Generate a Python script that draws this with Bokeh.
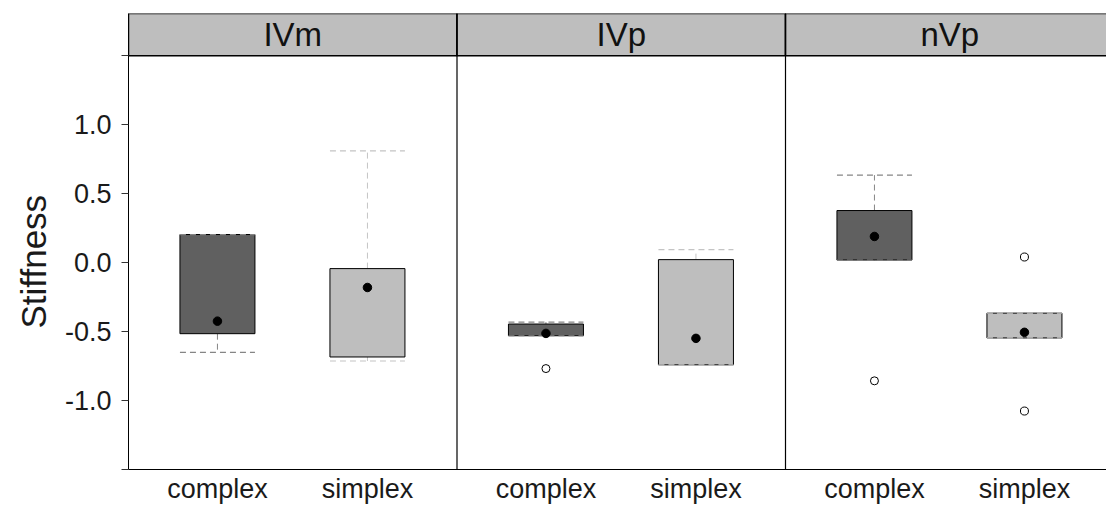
from bokeh.plotting import figure
from bokeh.models import (Range1d, FixedTicker, PrintfTickFormatter, ColumnDataSource, Title)
from bokeh.core.properties import value
from bokeh.embed import file_html
from bokeh.resources import INLINE

# ---- data -------------------------------------------------------------
panels = ["IVm", "IVp", "nVp"]
groups = ["complex", "simplex"]

# one entry per (panel, group) box, panel-major order
q1 = [-0.515, -0.684, -0.530, -0.741, 0.019, -0.546]
q3 = [0.204, -0.043, -0.445, 0.022, 0.378, -0.366]
whisker_lo = [-0.650, -0.713, -0.530, -0.741, 0.019, -0.546]
whisker_hi = [0.204, 0.811, -0.431, 0.094, 0.635, -0.366]
means = [-0.424, -0.180, -0.513, -0.549, 0.190, -0.505]
outliers = [[], [], [-0.768], [], [-0.857], [0.041, -1.076]]

y_ticks = [-1.5, -1.0, -0.5, 0.0, 0.5, 1.0, 1.5]

# ---- layout constants -----------------------------------------------
FONT = "Liberation Sans"
PANEL_W = 2.19          # width of one facet in x units
X0 = 0.407              # left edge of the first facet
BOX_W = 0.5
Y_MIN, Y_MAX = -1.5, 1.5
STRIP_TOP = 1.807       # top of the facet strip
fill_colors = {"complex": "#606060", "simplex": "#bebebe"}
whisker_colors = {"complex": "#858585", "simplex": "#c4c4c4"}

W, H = 1106, 506
LEFT, TOP, BOTTOM = 128, 13, 35
PX_PER_X = 150.0
x_end = X0 + (W - LEFT) / PX_PER_X

p = figure(width=W, height=H, output_backend="svg", toolbar_location=None,
           x_range=Range1d(X0, x_end), y_range=Range1d(Y_MIN, STRIP_TOP),
           min_border_left=LEFT, min_border_right=0,
           min_border_top=TOP, min_border_bottom=BOTTOM)
p.outline_line_color = None
p.xgrid.visible = False
p.ygrid.visible = False
p.background_fill_color = "white"
p.border_fill_color = "white"

# box x positions
xs, grp = [], []
for i, _ in enumerate(panels):
    for j, g in enumerate(groups):
        xs.append(round(i * PANEL_W + j + 1, 6))
        grp.append(g)

src = ColumnDataSource(dict(
    x=xs,
    left=[x - BOX_W / 2 for x in xs],
    right=[x + BOX_W / 2 for x in xs],
    q1=q1, q3=q3, lo=whisker_lo, hi=whisker_hi, mean=means,
    fill=[fill_colors[g] for g in grp],
    wcol=[whisker_colors[g] for g in grp],
))

# whisker stems
p.segment(x0="x", y0="q3", x1="x", y1="hi", source=src, line_color="wcol",
          line_width=1, line_dash="6 4")
p.segment(x0="x", y0="q1", x1="x", y1="lo", source=src, line_color="wcol",
          line_width=1, line_dash="6 4")
# boxes
p.quad(left="left", right="right", bottom="q1", top="q3", source=src,
       fill_color="fill", line_color="black", line_width=1)
# whisker caps
p.segment(x0="left", y0="hi", x1="right", y1="hi", source=src, line_color="wcol",
          line_width=1.2, line_dash="6 4")
p.segment(x0="left", y0="lo", x1="right", y1="lo", source=src, line_color="wcol",
          line_width=1.2, line_dash="6 4")
# means
p.scatter(x="x", y="mean", source=src, marker="circle", size=8.5,
          fill_color="black", line_color="black")
# outliers
ox, oy = [], []
for x, vals in zip(xs, outliers):
    for v in vals:
        ox.append(x)
        oy.append(v)
p.scatter(ox, oy, marker="circle", size=8, fill_color="white",
          line_color="black", line_width=1)

# facet strips
lefts = [X0 + i * PANEL_W for i in range(len(panels))]
rights = [l + PANEL_W for l in lefts]
p.quad(left=lefts, right=rights, bottom=Y_MAX, top=STRIP_TOP,
       fill_color="#bebebe", line_color="black", line_width=1.5)
p.text(x=[(l + r) / 2 for l, r in zip(lefts, rights)],
       y=[(Y_MAX + STRIP_TOP) / 2] * len(panels), text=panels,
       text_align="center", text_baseline="middle",
       text_font=value(FONT), text_font_size="33px", text_color="#111111")
# facet separators
p.segment(x0=lefts[1:], y0=[Y_MIN] * 2, x1=lefts[1:], y1=[STRIP_TOP] * 2,
          line_color="black", line_width=1.2)

# y axis
ya = p.yaxis[0]
ya.ticker = FixedTicker(ticks=y_ticks)
ya.formatter = PrintfTickFormatter(format="%.1f")
ya.major_label_overrides = {-1.5: "", 1.5: ""}
ya.minor_tick_line_color = None
ya.major_tick_in = 0
ya.major_tick_out = 7
ya.major_tick_line_color = "#333333"
ya.axis_line_color = "black"
ya.major_label_text_font = FONT
ya.major_label_text_font_size = "27px"
ya.major_label_text_color = "#1a1a1a"
ya.major_label_standoff = 10

# y axis title, placed along the data panel (below the strips)
p.add_layout(Title(text="Stiffness", align="left", offset=141,
                   text_font=FONT, text_font_size="35px",
                   text_font_style="normal", text_color="#1a1a1a",
                   standoff=18), "left")

# x axis with group labels under every facet
xa = p.xaxis[0]
xa.ticker = FixedTicker(ticks=xs)
xa.major_label_overrides = {x: g for x, g in zip(xs, grp)}
xa.minor_tick_line_color = None
xa.major_tick_in = 0
xa.major_tick_out = 0
xa.axis_line_color = "black"
xa.major_label_text_font = FONT
xa.major_label_text_font_size = "27px"
xa.major_label_text_color = "#1a1a1a"
xa.major_label_standoff = 4

open("out.html", "w").write(file_html(p, INLINE))
